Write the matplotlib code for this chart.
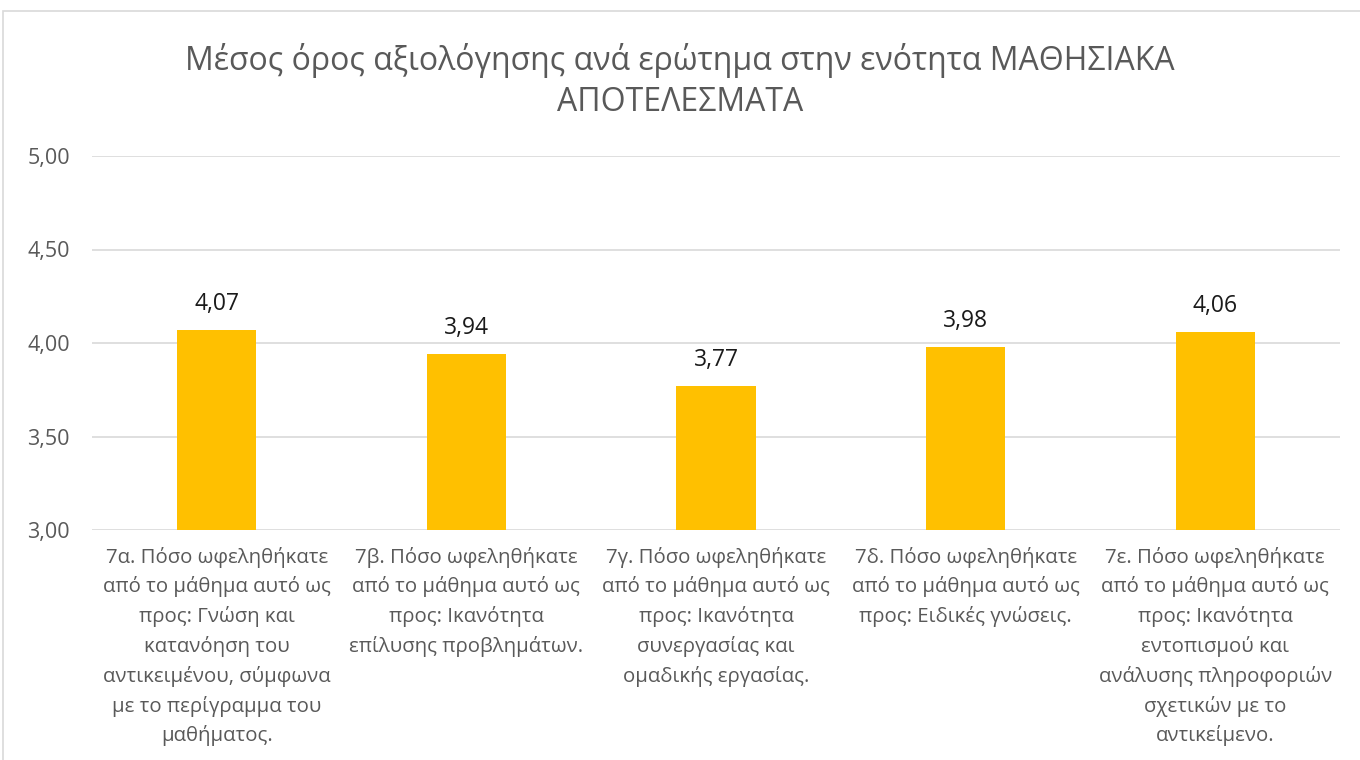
import numpy as np
import matplotlib.pyplot as plt
from matplotlib.patches import Rectangle

plt.rcParams['font.family'] = ['Open Sans', 'DejaVu Sans']

title = 'Μέσος όρος αξιολόγησης ανά ερώτημα στην ενότητα ΜΑΘΗΣΙΑΚΑ\nΑΠΟΤΕΛΕΣΜΑΤΑ'
categories = [
    '7α. Πόσο ωφεληθήκατε\nαπό το μάθημα αυτό ως\nπρος: Γνώση και\nκατανόηση του\nαντικειμένου, σύμφωνα\nμε το περίγραμμα του\nμαθήματος.',
    '7β. Πόσο ωφεληθήκατε\nαπό το μάθημα αυτό ως\nπρος: Ικανότητα\nεπίλυσης προβλημάτων.',
    '7γ. Πόσο ωφεληθήκατε\nαπό το μάθημα αυτό ως\nπρος: Ικανότητα\nσυνεργασίας και\nομαδικής εργασίας.',
    '7δ. Πόσο ωφεληθήκατε\nαπό το μάθημα αυτό ως\nπρος: Ειδικές γνώσεις.',
    '7ε. Πόσο ωφεληθήκατε\nαπό το μάθημα αυτό ως\nπρος: Ικανότητα\nεντοπισμού και\nανάλυσης πληροφοριών\nσχετικών με το\nαντικείμενο.',
]
values = [4.07, 3.94, 3.77, 3.98, 4.06]
yticks = [3.0, 3.5, 4.0, 4.5, 5.0]

fig = plt.figure(figsize=(13.6, 7.6), dpi=100)
W, H = 1360, 760
ax = fig.add_axes([92 / W, 1 - 530 / H, 1248 / W, 374 / H])

# chart area border
fig.patches.append(Rectangle((3 / W, -0.01), 1.1, 1 - 11 / H + 0.01, transform=fig.transFigure,
                             fill=False, edgecolor='#D9D9D9', linewidth=1.2))

x = np.arange(len(values))
ax.bar(x, values, width=0.317, color='#FFC000', bottom=0, zorder=3)
ax.set_xlim(-0.5, len(values) - 0.5)
ax.set_ylim(3.0, 5.0)
ax.set_yticks(yticks)
ax.set_yticklabels([f'{v:.2f}'.replace('.', ',') for v in yticks], fontsize=15.5, color='#595959')
ax.yaxis.grid(True, color='#D9D9D9', linewidth=1.2, zorder=0)
ax.tick_params(axis='y', length=0, pad=16)
ax.tick_params(axis='x', length=0, pad=12)
ax.set_xticks(x)
ax.set_xticklabels(categories, fontsize=14.7, color='#595959', linespacing=1.55, va='top')
for s in ax.spines.values():
    s.set_visible(False)

for xi, v in zip(x, values):
    ax.annotate(f'{v:.2f}'.replace('.', ','), (xi, v), xytext=(0, 10), textcoords='offset points',
                ha='center', va='bottom', fontsize=16.5, color='#1a1a1a')

fig.text(0.5, 1 - 81 / H, title, ha='center', va='center', fontsize=23, color='#595959',
         linespacing=1.32)

fig.savefig('out.png', dpi=100)
